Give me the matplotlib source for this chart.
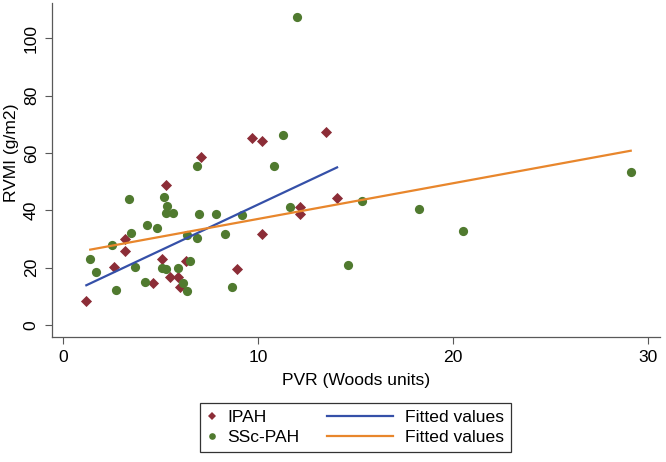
import matplotlib
matplotlib.use("Agg")
import matplotlib.pyplot as plt
import numpy as np
from matplotlib.lines import Line2D
from matplotlib.legend_handler import HandlerLine2D

plt.rcParams['font.family'] = ['Liberation Sans', 'DejaVu Sans']

# IPAH group (diamonds)
ipah_pvr = [1.2, 2.6, 3.2, 3.2, 4.6, 5.1, 5.3, 5.5, 5.9, 6.0,
            6.3, 7.1, 8.9, 9.7, 10.2, 10.2, 12.15, 12.15, 13.5, 14.05]
ipah_rvmi = [8.4, 20.1, 30.0, 25.8, 14.8, 23.0, 48.8, 16.6, 16.6, 13.1,
             22.4, 58.5, 19.4, 65.1, 64.2, 31.7, 41.3, 38.6, 67.3, 44.3]

# SSc-PAH group (circles)
ssc_pvr = [1.4, 1.7, 2.5, 2.7, 3.4, 3.5, 3.7, 4.2, 4.3, 4.8,
           5.2, 5.35, 5.3, 5.65, 5.1, 5.3, 5.9, 6.15, 6.35, 6.5,
           6.35, 6.85, 6.85, 6.95, 7.85, 8.3, 8.65, 9.2, 10.8, 11.3,
           11.65, 12.0, 14.6, 15.35, 18.25, 20.5, 29.1]
ssc_rvmi = [22.9, 18.4, 27.9, 12.2, 43.9, 32.0, 20.1, 15.1, 34.9, 33.9,
            44.8, 41.5, 38.9, 38.9, 20.0, 19.4, 20.0, 14.5, 12.0, 22.4,
            31.3, 30.2, 55.6, 38.7, 38.7, 31.6, 13.1, 38.4, 55.5, 66.4,
            41.3, 107.5, 21.0, 43.3, 40.6, 32.7, 53.5]

x_ticks = [0, 10, 20, 30]
y_ticks = [0, 20, 40, 60, 80, 100]

c_ipah = '#8C2D37'
c_ssc = '#507A2F'
c_fit1 = '#3550A8'
c_fit2 = '#E8862C'
c_axis = '#595959'


class HandlerShift(HandlerLine2D):
    # moves / stretches the legend handle sideways
    def __init__(self, left=0.0, right=0.0, **kw):
        super().__init__(**kw)
        self.left = left
        self.right = right

    def get_xdata(self, legend, xdescent, ydescent, width, height, fontsize):
        x = np.array([-xdescent - self.left * fontsize,
                      width - xdescent - self.right * fontsize])
        return x, x


fig = plt.figure(figsize=(6.66, 4.62), dpi=100)
ax = fig.add_axes([52 / 666, (462 - 337) / 462, 608 / 666, 334 / 462])

ax.scatter(ipah_pvr, ipah_rvmi, marker='D', s=32, color=c_ipah, linewidths=0, zorder=3)
ax.scatter(ssc_pvr, ssc_rvmi, marker='o', s=44, color=c_ssc, linewidths=0, zorder=3)

# linear fits per group
for xs, ys, col in [(ipah_pvr, ipah_rvmi, c_fit1), (ssc_pvr, ssc_rvmi, c_fit2)]:
    xs = np.array(xs)
    b, a = np.polyfit(xs, np.array(ys), 1)
    xx = np.array([xs.min(), xs.max()])
    ax.plot(xx, a + b * xx, color=col, lw=1.6, zorder=4)

ax.set_xlim(-0.56, 30.6)
ax.set_ylim(-4.2, 112.3)
ax.set_xticks(x_ticks)
ax.set_yticks(y_ticks)
ax.set_yticklabels([str(v) for v in y_ticks], rotation=90, va='center')
ax.tick_params(axis='both', direction='out', length=5, width=0.8, color=c_axis,
               labelsize=12.6, pad=4.5)

for s in ['top', 'right']:
    ax.spines[s].set_visible(False)
for s in ['left', 'bottom']:
    ax.spines[s].set_color(c_axis)
    ax.spines[s].set_linewidth(0.9)

ax.set_xlabel('PVR (Woods units)', fontsize=12.6)
ax.set_ylabel('RVMI (g/m2)', fontsize=12.6)
ax.xaxis.set_label_coords(0.5, (337 - 381) / 334)
ax.xaxis.label.set_va('center')
ax.yaxis.set_label_coords((12 - 52) / 608, (337 - 153) / 334)
ax.yaxis.label.set_va('center')

h1 = Line2D([], [], marker='D', ls='none', color=c_ipah, markersize=4.1, markeredgewidth=0)
h2 = Line2D([], [], marker='o', ls='none', color=c_ssc, markersize=4.8, markeredgewidth=0)
h3 = Line2D([], [], color=c_fit1, lw=1.6)
h4 = Line2D([], [], color=c_fit2, lw=1.6)

leg = fig.legend([h1, h2, h3, h4], ['IPAH', 'SSc-PAH', 'Fitted values', 'Fitted values'],
                 ncol=2, loc='center',
                 bbox_to_anchor=(355.5 / 666, (462 - 427.5) / 462),
                 fontsize=12.6, frameon=True, fancybox=False, framealpha=1,
                 edgecolor='#333333', borderpad=0.4, handlelength=0.5,
                 handletextpad=0.64, columnspacing=4.86, labelspacing=0.3,
                 numpoints=1,
                 handler_map={h1: HandlerShift(), h2: HandlerShift(),
                              h3: HandlerShift(left=3.3), h4: HandlerShift(left=3.3)})
leg.get_frame().set_linewidth(0.9)

fig.savefig('out.png', dpi=100)
